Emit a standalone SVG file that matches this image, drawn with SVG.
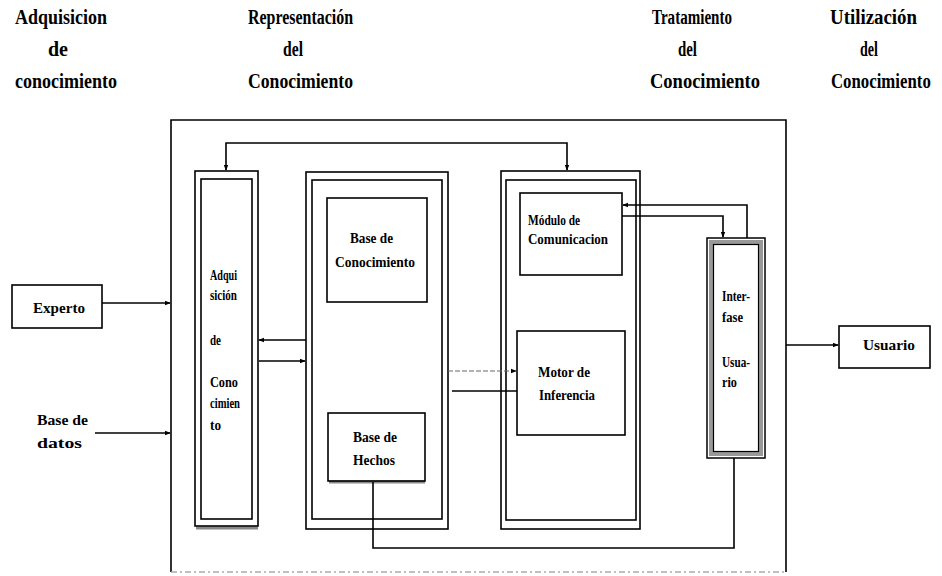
<svg xmlns="http://www.w3.org/2000/svg" width="942" height="576" viewBox="0 0 942 576">
<defs>
<style>
.t{font-family:"Liberation Serif","Times New Roman",serif;fill:#000;font-weight:bold;}
.h{font-size:20px;}
.b{font-size:15px;}
.box{fill:none;stroke:#000;stroke-width:1.6;}
.ln{fill:none;stroke:#000;stroke-width:1.6;}
.sh{fill:none;stroke:#888;stroke-width:3;}
</style>
<marker id="ar" viewBox="0 0 8 8" refX="7" refY="4" markerWidth="6" markerHeight="6" orient="auto-start-reverse" markerUnits="userSpaceOnUse">
<path d="M0,1 L8,4 L0,7 z" fill="#000"/>
</marker>
</defs>
<rect width="942" height="576" fill="#fff"/>

<g id="headers">
<text class="t h" x="15" y="24" textLength="92" lengthAdjust="spacingAndGlyphs">Adquisicion</text>
<text class="t h" x="48" y="56" textLength="20" lengthAdjust="spacingAndGlyphs">de</text>
<text class="t h" x="15" y="88" textLength="102" lengthAdjust="spacingAndGlyphs">conocimiento</text>
<text class="t h" x="248" y="24" textLength="105" lengthAdjust="spacingAndGlyphs">Representación</text>
<text class="t h" x="283" y="56" textLength="20" lengthAdjust="spacingAndGlyphs">del</text>
<text class="t h" x="248" y="88" textLength="105" lengthAdjust="spacingAndGlyphs">Conocimiento</text>
<text class="t h" x="652" y="24" textLength="80" lengthAdjust="spacingAndGlyphs">Tratamiento</text>
<text class="t h" x="678" y="56" textLength="19" lengthAdjust="spacingAndGlyphs">del</text>
<text class="t h" x="650" y="88" textLength="110" lengthAdjust="spacingAndGlyphs">Conocimiento</text>
<text class="t h" x="830" y="24" textLength="87" lengthAdjust="spacingAndGlyphs">Utilización</text>
<text class="t h" x="860" y="56" textLength="18" lengthAdjust="spacingAndGlyphs">del</text>
<text class="t h" transform="translate(831,88) scale(0.84,1)" x="0" y="0">Conocimiento</text>
</g>

<g id="frame">
<path class="ln" d="M171,572 L171,120 L786,120 L786,572"/>
<line x1="171" y1="572" x2="786" y2="572" stroke="#aaa" stroke-width="1.5" stroke-dasharray="6,3,2,3"/>
</g>

<g id="experto">
<rect class="box" x="12" y="285" width="90" height="43"/>
<text class="t b" x="33" y="313" textLength="52" lengthAdjust="spacingAndGlyphs">Experto</text>
</g>

<g id="base-datos">
<text class="t b" x="37" y="425" textLength="51" lengthAdjust="spacingAndGlyphs">Base de</text>
<text class="t b" x="37" y="448" textLength="45" lengthAdjust="spacingAndGlyphs">datos</text>
</g>

<g id="adquisicion">
<line class="sh" x1="196" y1="528" x2="258" y2="528"/>
<rect class="box" x="195" y="171" width="63" height="355"/>
<rect class="box" x="201" y="179" width="51" height="340"/>
<text class="t b" x="210" y="280" textLength="27" lengthAdjust="spacingAndGlyphs">Adqui</text>
<text class="t b" x="210" y="300" textLength="27" lengthAdjust="spacingAndGlyphs">sición</text>
<text class="t b" x="210" y="345" textLength="11" lengthAdjust="spacingAndGlyphs">de</text>
<text class="t b" x="210" y="387" textLength="28" lengthAdjust="spacingAndGlyphs">Cono</text>
<text class="t b" x="210" y="408" textLength="30" lengthAdjust="spacingAndGlyphs">cimien</text>
<text class="t b" x="210" y="430" textLength="11" lengthAdjust="spacingAndGlyphs">to</text>
</g>

<g id="representacion">
<rect class="box" x="306" y="172" width="142" height="357"/>
<rect class="box" x="312" y="180" width="130" height="339"/>
</g>

<g id="base-conocimiento">
<rect class="box" x="327" y="198" width="100" height="104"/>
<text class="t b" x="350" y="243" textLength="43" lengthAdjust="spacingAndGlyphs">Base de</text>
<text class="t b" x="335" y="267" textLength="80" lengthAdjust="spacingAndGlyphs">Conocimiento</text>
</g>

<g id="base-hechos">
<line class="sh" x1="329" y1="482" x2="425" y2="482"/>
<rect class="box" x="328" y="413" width="97" height="68"/>
<text class="t b" x="353" y="442" textLength="44" lengthAdjust="spacingAndGlyphs">Base de</text>
<text class="t b" x="353" y="465" textLength="42" lengthAdjust="spacingAndGlyphs">Hechos</text>
</g>

<g id="tratamiento">
<rect class="box" x="501" y="171" width="139" height="358"/>
<rect class="box" x="506" y="180" width="130" height="340"/>
</g>

<g id="modulo">
<rect class="box" x="520" y="193" width="102" height="82"/>
<text class="t b" x="528" y="225" textLength="52" lengthAdjust="spacingAndGlyphs">Módulo de</text>
<text class="t b" x="528" y="244" textLength="80" lengthAdjust="spacingAndGlyphs">Comunicacion</text>
</g>

<g id="motor">
<rect class="box" x="517" y="331" width="108" height="104"/>
<text class="t b" x="538" y="377" textLength="52" lengthAdjust="spacingAndGlyphs">Motor de</text>
<text class="t b" x="539" y="400" textLength="56" lengthAdjust="spacingAndGlyphs">Inferencia</text>
</g>

<g id="interfase">
<rect x="707" y="238" width="58" height="220" fill="none" stroke="#000" stroke-width="1.5"/>
<rect x="711" y="242" width="50" height="212" fill="none" stroke="#999" stroke-width="4"/>
<rect x="713.5" y="244.5" width="45" height="207" fill="none" stroke="#000" stroke-width="1.2"/>
<text class="t b" x="722" y="301" textLength="28" lengthAdjust="spacingAndGlyphs">Inter-</text>
<text class="t b" x="722" y="322" textLength="21" lengthAdjust="spacingAndGlyphs">fase</text>
<text class="t b" x="722" y="367" textLength="28" lengthAdjust="spacingAndGlyphs">Usua-</text>
<text class="t b" x="722" y="387" textLength="15" lengthAdjust="spacingAndGlyphs">rio</text>
</g>

<g id="usuario">
<rect class="box" x="839" y="326" width="91" height="42"/>
<text class="t b" x="863" y="350" textLength="52" lengthAdjust="spacingAndGlyphs">Usuario</text>
</g>

<g id="connectors">
<path class="ln" d="M102,303 L170,303" marker-end="url(#ar)"/>
<path class="ln" d="M95,433 L170,433" marker-end="url(#ar)"/>
<path class="ln" d="M226,170 L226,143 L567,143 L567,170" marker-start="url(#ar)" marker-end="url(#ar)"/>
<path class="ln" d="M306,340 L259,340" marker-end="url(#ar)"/>
<path class="ln" d="M259,361 L305,361" marker-end="url(#ar)"/>
<path d="M448,371 L516,371" fill="none" stroke="#666" stroke-width="1" stroke-dasharray="5,2" marker-end="url(#ar)"/>
<path class="ln" d="M452,391 L517,391"/>
<path class="ln" d="M747,238 L747,205 L623,205" marker-end="url(#ar)"/>
<path class="ln" d="M622,216 L723,216 L723,237" marker-end="url(#ar)"/>
<path class="ln" d="M786,345 L838,345" marker-end="url(#ar)"/>
<path class="ln" d="M373,482 L373,548 L734,548 L734,458"/>
</g>
</svg>
